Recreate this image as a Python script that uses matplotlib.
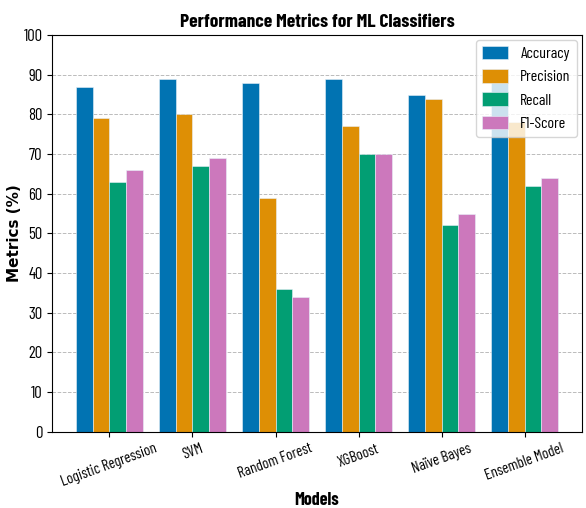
import matplotlib
matplotlib.use("Agg")
import matplotlib.pyplot as plt
import numpy as np

# the reference text is condensed
plt.rcParams['font.family'] = ['Barlow Condensed', 'DejaVu Sans']

models = ["Logistic Regression", "SVM", "Random Forest", "XGBoost", "Naïve Bayes", "Ensemble Model"]
accuracy = [87, 89, 88, 89, 85, 90]
precision = [79, 80, 59, 77, 84, 78]
recall = [63, 67, 36, 70, 52, 62]
f1 = [66, 69, 34, 70, 55, 64]

series = [("Accuracy", accuracy, "#0173b2"),
          ("Precision", precision, "#de8f05"),
          ("Recall", recall, "#029e73"),
          ("F1-Score", f1, "#cc78bc")]

fig, ax = plt.subplots(figsize=(5.86, 5.08), dpi=100)
x = np.arange(len(models))
w = 0.2
for i, (name, vals, c) in enumerate(series):
    ax.bar(x + (i - 1.5) * w, vals, w, label=name, color=c, edgecolor="#e8f0f8", linewidth=0.4)

ax.set_ylim(0, 100)
ax.set_yticks(range(0, 101, 10))
ax.set_xticks(x)
ax.set_xticklabels(models, rotation=20, ha="center", fontsize=11)
ax.tick_params(axis="y", labelsize=12)
ax.yaxis.grid(True, linestyle="--", color="#bbbbbb", linewidth=0.7)
ax.set_axisbelow(True)
ax.set_title("Performance Metrics for ML Classifiers", fontsize=14, fontweight="bold", pad=6)
ax.set_ylabel("Metrics (%)", fontsize=11, fontweight="bold", family="DejaVu Sans")
ax.yaxis.set_label_coords(-0.056, 0.5)
ax.set_xlabel("Models", fontsize=13, fontweight="bold", labelpad=2)
ax.legend(loc="upper right", fontsize=11.5, labelspacing=0.5, handleheight=0.9,
          handlelength=1.6, borderaxespad=0.3)

fig.subplots_adjust(left=0.089, right=0.993, top=0.931, bottom=0.15)
fig.savefig("out.png", dpi=100)
